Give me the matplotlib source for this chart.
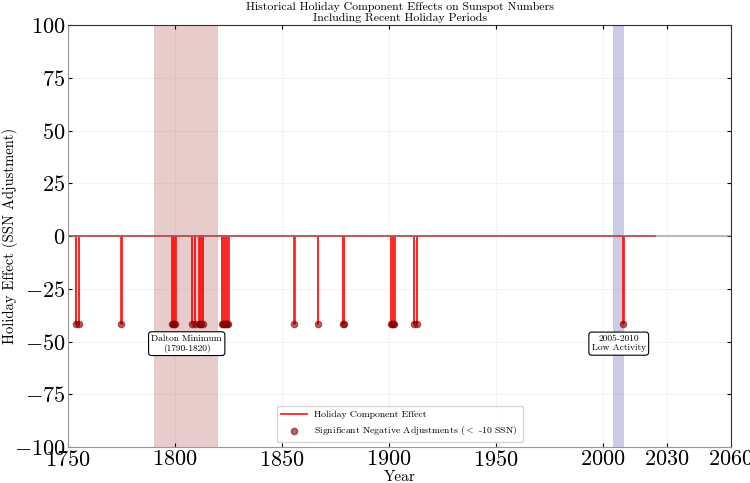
import numpy as np
import matplotlib
matplotlib.use("Agg")
import matplotlib.pyplot as plt

plt.rcParams['font.family'] = 'serif'
plt.rcParams['font.serif'] = ['cmr10', 'DejaVu Serif']
plt.rcParams['mathtext.fontset'] = 'cm'
plt.rcParams['axes.formatter.use_mathtext'] = True
plt.rcParams['axes.unicode_minus'] = True

# Data: times (fractional years) where holiday component gives a strong negative adjustment
event_years = [1753.5, 1755.0, 1774.9,
               1798.4, 1799.0, 1799.6, 1800.1,
               1807.9, 1809.3, 1811.4, 1811.9, 1812.4, 1812.9,
               1821.8, 1822.3, 1822.8, 1823.3, 1823.8, 1824.3, 1824.8,
               1855.7, 1866.8, 1878.5, 1878.9,
               1901.1, 1901.6, 1902.1, 1902.5, 1911.7, 1913.1, 2009.5]
event_effect = -41.7
series_start, series_end = 1750.0, 2024.5
event_duration = 0.25

dalton = (1790, 1820)
recent = (2005, 2010)
x_ticks = [1750, 1800, 1850, 1900, 1950, 2000, 2030, 2060]
y_ticks = [-100, -75, -50, -25, 0, 25, 50, 75, 100]

# build the effect line from the events
lx, ly = [series_start], [0.0]
for t in event_years:
    lx += [t, t, t + event_duration, t + event_duration]
    ly += [0.0, event_effect, event_effect, 0.0]
lx.append(series_end)
ly.append(0.0)

fig = plt.figure(figsize=(7.5, 4.83), dpi=100)
ax = fig.add_axes([0.0907, 0.0745, 0.884, 0.8735])

ax.axvspan(*dalton, color='darkred', alpha=0.2, lw=0)
ax.axvspan(*recent, color='darkblue', alpha=0.2, lw=0)

ax.plot(lx, ly, color='red', lw=1.3, alpha=0.85, label='Holiday Component Effect')
ax.scatter(event_years, [event_effect] * len(event_years), color='darkred', s=20,
           alpha=0.6, zorder=3, label='Significant Negative Adjustments ($<$ -10 SSN)')
ax.axhline(0, color='gray', alpha=0.5, lw=1.5)

bbox = dict(boxstyle='round,pad=0.3', facecolor='white', edgecolor='black', lw=0.8)
ax.text(1805.5, -51, 'Dalton Minimum\n(1790-1820)', ha='center', va='center',
        fontsize=6.8, bbox=bbox, linespacing=1.1)
ax.text(2007.5, -51, '2005-2010\nLow Activity', ha='center', va='center',
        fontsize=6.8, bbox=bbox, linespacing=1.1)

ax.set_xlim(1750, 2060)
ax.set_ylim(-100, 100)
ax.set_xticks(x_ticks)
ax.set_yticks(y_ticks)
ax.tick_params(direction='in', labelsize=16, top=True, right=True, length=3, pad=2)
ax.grid(True, color='#f4f4f4', lw=0.8)
ax.set_axisbelow(True)
for s in ['left', 'bottom']:
    ax.spines[s].set_color('#999999')
for s in ['top', 'right']:
    ax.spines[s].set_color('#333333')

ax.set_xlabel('Year', fontsize=11, labelpad=0)
ax.set_ylabel('Holiday Effect (SSN Adjustment)', fontsize=10.5)
ax.yaxis.set_label_coords(-0.075, 0.5)
ax.set_title('Historical Holiday Component Effects on Sunspot Numbers\nIncluding Recent Holiday Periods',
             fontsize=8.5, pad=3, linespacing=1.15)

leg = ax.legend(loc='lower center', fontsize=7, frameon=True, fancybox=True,
                edgecolor='#cccccc', borderpad=0.5, handlelength=2.6)

fig.savefig('out.png', dpi=100)
